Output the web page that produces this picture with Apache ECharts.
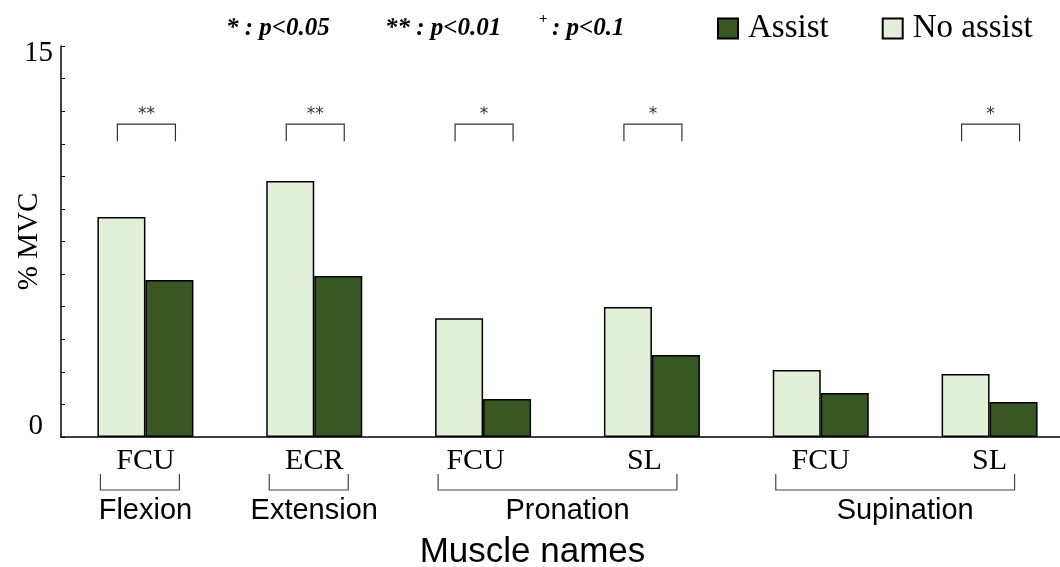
<!DOCTYPE html>
<html>
<head>
<meta charset="utf-8">
<script src="https://cdn.jsdelivr.net/npm/echarts@6/dist/echarts.min.js"></script>
<style>
  html, body { margin: 0; padding: 0; background: #fff; }
  #chart { width: 1060px; height: 567px; }
</style>
</head>
<body>
<div id="chart"></div>
<script>
// Muscle activity (% MVC) with and without assist
const muscles = ['FCU', 'ECR', 'FCU', 'SL', 'FCU', 'SL'];
const noAssist = [8.44, 9.82, 4.56, 4.99, 2.57, 2.42];
const assist = [6.02, 6.18, 1.46, 3.15, 1.69, 1.34];
const sigMarks = ['**', '**', '*', '*', '', '*'];
const motionNames = ['Flexion', 'Extension', 'Pronation', 'Supination'];
const motionSpans = [[0, 0], [1, 1], [2, 3], [4, 5]];
const yTickLabels = ['0', '15'];

const SERIF = 'Liberation Serif';
const SANS = 'Liberation Sans';
const SIG_Y = 12;

const chart = echarts.init(document.getElementById('chart'), null, { renderer: 'canvas' });

// label nudges for the two-muscle motions
const labelShift = ['c', 'c', 'l', 'l', 'c', 'c'];

function renderSig(params, api) {
  const i = api.value(0);
  const top = api.coord([i, SIG_Y]);
  const bot = api.coord([i, SIG_Y - 0.65]);
  const cx = top[0] + 1, half = 29;
  return {
    type: 'group',
    children: [
      {
        type: 'polyline',
        shape: { points: [[cx - half, bot[1]], [cx - half, top[1]], [cx + half, top[1]], [cx + half, bot[1]]] },
        style: { stroke: '#333', lineWidth: 1.2, fill: null }
      },
      {
        type: 'text',
        style: {
          text: sigMarks[i], x: cx, y: top[1] - 10,
          align: 'center', verticalAlign: 'middle',
          font: '17px "DejaVu Sans"', fill: '#333'
        }
      }
    ]
  };
}

function renderMotion(params, api) {
  const i0 = api.value(0), i1 = api.value(1);
  const p0 = api.coord([i0, 0]);
  const p1 = api.coord([i1, 0]);
  const base = p0[1];
  const single = i0 === i1;
  const x0 = p0[0] - 45;
  const x1 = p1[0] + (single ? 34 : 25);
  const yTop = base + 37, yBot = base + 53;
  return {
    type: 'group',
    children: [
      {
        type: 'polyline',
        shape: { points: [[x0, yTop], [x0, yBot], [x1, yBot], [x1, yTop]] },
        style: { stroke: '#444', lineWidth: 1.2, fill: null }
      },
      {
        type: 'text',
        style: {
          text: motionNames[params.dataIndex], x: (p0[0] + p1[0]) / 2, y: base + 74,
          align: 'center', verticalAlign: 'middle',
          font: '29px "' + SANS + '"', fill: '#000'
        }
      }
    ]
  };
}

const option = {
  backgroundColor: '#fff',
  animation: false,
  grid: { left: 61, top: 46, width: 1013, bottom: 130, containLabel: false, outerBoundsMode: 'none' },
  legend: {
    data: ['Assist', 'No assist'],
    left: 717, top: 12, padding: 0,
    itemWidth: 20, itemHeight: 20, itemGap: 53,
    icon: 'rect',
    textStyle: { fontFamily: SERIF, fontSize: 33, color: '#000', padding: [0, 0, 0, 5] }
  },
  xAxis: {
    type: 'category',
    data: muscles,
    name: 'Muscle names',
    nameLocation: 'middle',
    nameGap: 98,
    nameMoveOverlap: false,
    nameTextStyle: { fontFamily: SANS, fontSize: 35, color: '#000', padding: [0, 70, 0, 0] },
    axisLine: { lineStyle: { color: '#000', width: 1.5 } },
    axisTick: { show: false },
    axisLabel: {
      margin: 9,
      formatter: (v, i) => '{' + labelShift[i] + '|' + v + '}',
      rich: {
        c: { fontFamily: SERIF, fontSize: 30, color: '#000' },
        l: { fontFamily: SERIF, fontSize: 30, color: '#000', padding: [0, 15, 0, 0] }
      }
    }
  },
  yAxis: {
    type: 'value',
    min: 0, max: 15, interval: 1.25,
    name: '% MVC',
    nameLocation: 'middle',
    nameRotate: 90,
    nameGap: 17,
    nameMoveOverlap: false,
    nameTextStyle: { fontFamily: SERIF, fontSize: 29, color: '#000' },
    axisLine: { show: true, lineStyle: { color: '#000', width: 1.5 } },
    axisTick: { show: true, inside: true, length: 4, lineStyle: { color: '#000', width: 1 } },
    splitLine: { show: false },
    axisLabel: {
      margin: 8,
      formatter: v => v === 0 ? '{lo|' + yTickLabels[0] + '}' : (v === 15 ? '{hi|' + yTickLabels[1] + '}' : ''),
      rich: {
        hi: { fontFamily: SERIF, fontSize: 29, color: '#000', padding: [14, 0, 0, 0] },
        lo: { fontFamily: SERIF, fontSize: 29, color: '#000', padding: [0, 10, 22, 0] }
      }
    }
  },
  graphic: [
    { type: 'text', left: 226, top: 16, style: { text: '* : p<0.05', font: 'italic bold 25px "' + SERIF + '"', fill: '#000' } },
    { type: 'text', left: 385, top: 16, style: { text: '** : p<0.01', font: 'italic bold 25px "' + SERIF + '"', fill: '#000' } },
    { type: 'text', left: 539, top: 12, style: { text: '+', font: 'bold 15px "' + SERIF + '"', fill: '#000' } },
    { type: 'text', left: 552, top: 16, style: { text: ': p<0.1', font: 'italic bold 25px "' + SERIF + '"', fill: '#000' } }
  ],
  series: [
    {
      name: 'No assist', type: 'bar', data: noAssist,
      barWidth: 48, barGap: '0%',
      itemStyle: { color: '#e2efd9', borderColor: '#000', borderWidth: 1.5 }
    },
    {
      name: 'Assist', type: 'bar', data: assist,
      barWidth: 48, barGap: '0%',
      itemStyle: { color: '#385723', borderColor: '#000', borderWidth: 1.5 }
    },
    {
      type: 'custom', name: 'sig', silent: true, clip: false, z: 5,
      renderItem: renderSig,
      encode: { x: 0 },
      data: sigMarks.map((m, i) => m ? [i] : null).filter(d => d)
    },
    {
      type: 'custom', name: 'motion', silent: true, clip: false, z: 5,
      renderItem: renderMotion,
      encode: { x: [0, 1] },
      data: motionSpans
    }
  ]
};

chart.setOption(option);
</script>
</body>
</html>
